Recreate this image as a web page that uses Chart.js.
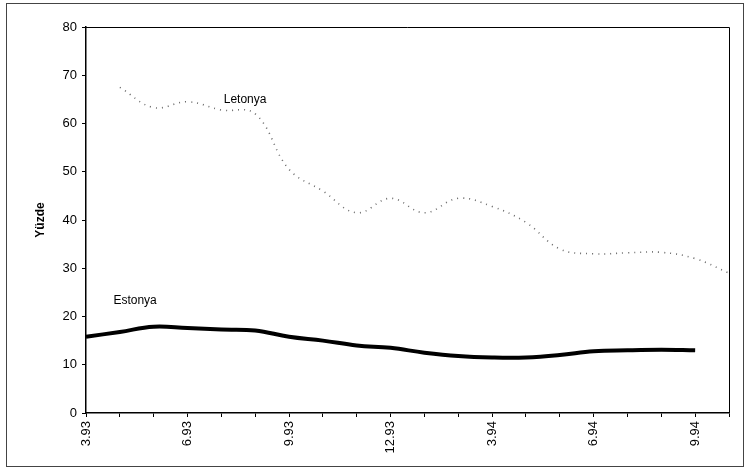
<!DOCTYPE html>
<html>
<head>
<meta charset="utf-8">
<script src="https://cdn.jsdelivr.net/npm/chart.js@4/dist/chart.umd.min.js"></script>
<style>
  html, body { margin: 0; padding: 0; background: #fff; }
  #wrap { width: 751px; height: 474px; }
</style>
</head>
<body>
<div id="wrap"><canvas id="plot"></canvas></div>
<script>
// months 3.93 .. 10.94
const months = ['3.93','4.93','5.93','6.93','7.93','8.93','9.93','10.93','11.93','12.93',
                '1.94','2.94','3.94','4.94','5.94','6.94','7.94','8.94','9.94','10.94'];
const shownLabels = ['3.93','6.93','9.93','12.93','3.94','6.94','9.94'];

const letonya = [null, 67.5, 63.3, 64.5, 62.8, 62, 50.5, 46, 41.5, 44.5,
                 41.5, 44.5, 42.8, 39.5, 34, 33, 33.2, 33.3, 32, 29];
const estonya = [15.8, 16.8, 17.9, 17.6, 17.3, 17.1, 15.8, 15, 14, 13.5,
                 12.5, 11.8, 11.5, 11.5, 12, 12.8, 13, 13.1, 13, null];

const yTicks = [0, 10, 20, 30, 40, 50, 60, 70, 80];

const font = 'Liberation Sans, Arial, sans-serif';

// labels on the lines + frames
const decor = {
    id: 'decor',
    beforeDraw(chart) {
        const ctx = chart.ctx;
        ctx.save();
        ctx.fillStyle = '#fff';
        ctx.fillRect(0, 0, chart.width, chart.height);
        ctx.strokeStyle = '#444';
        ctx.lineWidth = 1;
        ctx.strokeRect(6.5, 3.5, 737, 463);
        ctx.restore();
    },
    afterDatasetsDraw(chart) {
        const ctx = chart.ctx;
        const a = chart.chartArea;
        const x = chart.scales.x, y = chart.scales.y;
        ctx.save();
        ctx.strokeStyle = '#000';
        ctx.lineWidth = 1;
        ctx.beginPath();
        ctx.moveTo(a.left, a.top + 0.5);
        ctx.lineTo(a.right + 0.5, a.top + 0.5);
        ctx.lineTo(a.right + 0.5, a.bottom);
        ctx.stroke();
        ctx.fillStyle = '#000';
        ctx.font = '12px ' + font;
        ctx.textAlign = 'center';
        ctx.textBaseline = 'middle';
        ctx.fillText('Letonya', x.getPixelForValue(4.7), y.getPixelForValue(65));
        ctx.fillText('Estonya', x.getPixelForValue(1.45), y.getPixelForValue(23.3));
        ctx.restore();
    }
};

new Chart(document.getElementById('plot'), {
    type: 'line',
    data: {
        labels: months,
        datasets: [{
            label: 'Letonya',
            data: letonya,
            borderColor: '#6a6a6a',
            borderWidth: 1.6,
            borderDash: [1, 5],
            pointRadius: 0,
            tension: 0.4,
            fill: false
        }, {
            label: 'Estonya',
            data: estonya,
            borderColor: '#000',
            borderWidth: 4,
            pointRadius: 0,
            tension: 0.4,
            fill: false
        }]
    },
    options: {
        responsive: true,
        maintainAspectRatio: false,
        animation: false,
        layout: { padding: { left: 33, right: 22, top: 27, bottom: 6 } },
        scales: {
            x: {
                type: 'category',
                offset: false,
                grid: { display: true, drawOnChartArea: false, drawTicks: true, tickLength: 4, color: '#000' },
                border: { color: '#000', width: 1.5 },
                ticks: {
                    autoSkip: false,
                    maxRotation: 90,
                    minRotation: 90,
                    padding: 4,
                    color: '#000',
                    font: { family: font, size: 13 },
                    callback: function (v, i) {
                        const m = months[i];
                        return shownLabels.includes(m) ? m : '';
                    }
                },
                afterFit: function (s) { s.height = 55; }
            },
            y: {
                min: 0,
                max: 80,
                grid: { display: true, drawOnChartArea: false, drawTicks: true, tickLength: 4, color: '#000' },
                border: { color: '#000', width: 1.5 },
                afterBuildTicks: function (s) { s.ticks = yTicks.map(v => ({ value: v })); },
                ticks: {
                    color: '#000',
                    padding: 5,
                    font: { family: font, size: 13 }
                },
                title: {
                    display: true,
                    text: 'Yüzde',
                    color: '#000',
                    padding: 0,
                    font: { family: font, size: 12, weight: 'bold' }
                },
                afterFit: function (s) { s.width = 53; }
            }
        },
        plugins: {
            legend: { display: false },
            tooltip: { enabled: false }
        }
    },
    plugins: [decor]
});
</script>
</body>
</html>
